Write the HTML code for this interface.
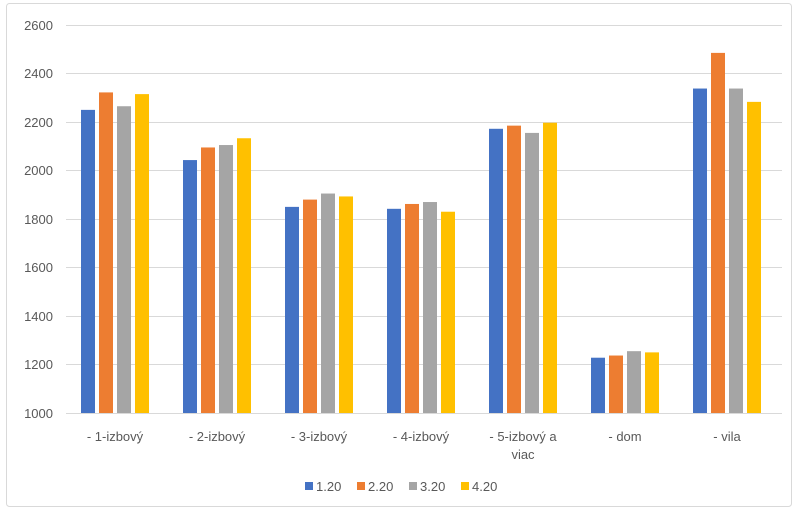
<!DOCTYPE html>
<html><head><meta charset="utf-8"><style>body{margin:0;background:#fff}</style></head><body>
<svg width="800" height="516" xmlns="http://www.w3.org/2000/svg" font-family="Liberation Sans, sans-serif" font-size="13" fill="#595959">
<rect x="6.5" y="3.5" width="785" height="503" fill="#fff" stroke="#d9d9d9" rx="3"/>
<g stroke="#d9d9d9" stroke-width="1">
<line x1="66" x2="782" y1="25.5" y2="25.5"/><line x1="66" x2="782" y1="73.5" y2="73.5"/>
<line x1="66" x2="782" y1="122.5" y2="122.5"/><line x1="66" x2="782" y1="170.5" y2="170.5"/>
<line x1="66" x2="782" y1="219.5" y2="219.5"/><line x1="66" x2="782" y1="267.5" y2="267.5"/>
<line x1="66" x2="782" y1="316.5" y2="316.5"/><line x1="66" x2="782" y1="364.5" y2="364.5"/>
<line x1="66" x2="782" y1="413.5" y2="413.5"/>
</g>
<g text-anchor="end">
<text x="53" y="30">2600</text><text x="53" y="78">2400</text><text x="53" y="127">2200</text>
<text x="53" y="175">2000</text><text x="53" y="224">1800</text><text x="53" y="272">1600</text>
<text x="53" y="321">1400</text><text x="53" y="369">1200</text><text x="53" y="418">1000</text>
</g>
<g id="bars"></g>
<g text-anchor="middle">
<text x="115" y="441">- 1-izbový</text><text x="217" y="441">- 2-izbový</text>
<text x="319" y="441">- 3-izbový</text><text x="421" y="441">- 4-izbový</text>
<text x="523" y="441">- 5-izbový a</text><text x="523" y="459">viac</text>
<text x="625" y="441">- dom</text><text x="727" y="441">- vila</text>
</g>
<rect x="305" y="482" width="8" height="8" fill="#4472C4"/><text x="316" y="491">1.20</text>
<rect x="357" y="482" width="8" height="8" fill="#ED7D31"/><text x="368" y="491">2.20</text>
<rect x="409" y="482" width="8" height="8" fill="#A5A5A5"/><text x="420" y="491">3.20</text>
<rect x="461" y="482" width="8" height="8" fill="#FFC000"/><text x="472" y="491">4.20</text>
</svg>
<script>
var d=[[2250,2322,2265,2315],[2043,2095,2105,2133],[1850,1880,1905,1893],[1842,1862,1870,1830],[2172,2185,2155,2197],[1228,1237,1255,1250],[2338,2485,2338,2283]];
var c=["#4472C4","#ED7D31","#A5A5A5","#FFC000"],s="";
d.forEach(function(g,k){g.forEach(function(v,i){var y=413-(v-1000)*0.2425;s+='<rect x="'+(81+k*102+i*18)+'" y="'+y+'" width="14" height="'+(413-y)+'" fill="'+c[i]+'"/>';});});
document.getElementById("bars").innerHTML=s;
</script>
</body></html>
